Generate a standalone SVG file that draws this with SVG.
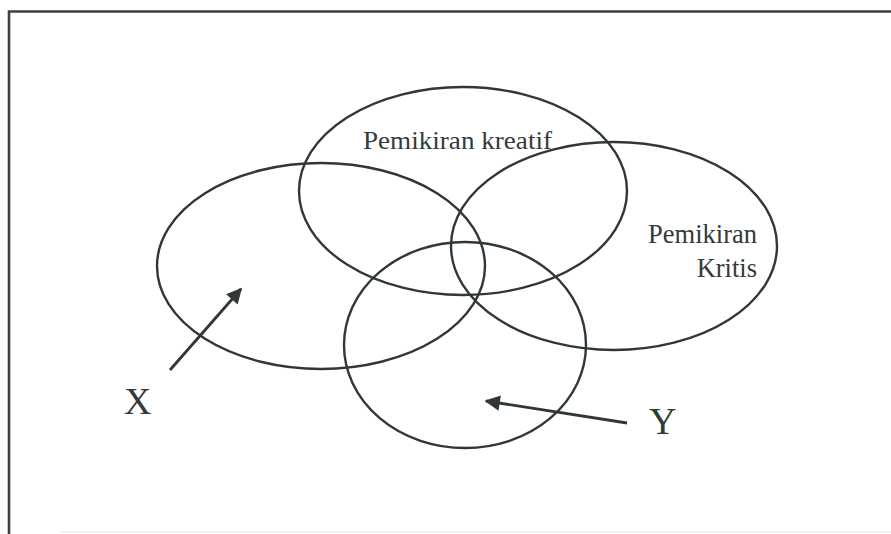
<svg xmlns="http://www.w3.org/2000/svg" width="891" height="534" viewBox="0 0 891 534">
<style>
.set{fill:none;stroke:#2f3835;stroke-width:2.4}
.lbl{font-family:"Liberation Serif","Times New Roman",serif;fill:#333b38}
.conn{stroke:#2f3835;stroke-width:2.8;fill:none}
</style>
<defs>
<marker id="ah" viewBox="0 0 10 10" refX="9" refY="5" markerWidth="6" markerHeight="5.5" markerUnits="strokeWidth" orient="auto">
<path d="M0,0 L10,5 L0,10 z" fill="#2f3835"/>
</marker>
</defs>
<rect width="891" height="534" fill="#fff"/>
<g id="frame">
<path d="M9,534 V11.5 H891" fill="none" stroke="#3a4240" stroke-width="2.6"/>
<line x1="60" y1="532" x2="891" y2="532" stroke="#e2e2e2" stroke-width="1"/>
</g>
<g id="set-x"><ellipse class="set" cx="321" cy="266" rx="164" ry="103"/></g>
<g id="set-kreatif"><ellipse class="set" cx="463" cy="191" rx="164" ry="104"/>
<text class="lbl" x="363" y="149" font-size="26" textLength="189" lengthAdjust="spacingAndGlyphs">Pemikiran kreatif</text></g>
<g id="set-kritis"><ellipse class="set" cx="614" cy="246" rx="163" ry="104"/>
<text class="lbl" x="757" y="243" font-size="26.5" text-anchor="end">Pemikiran</text>
<text class="lbl" x="757" y="277" font-size="26.5" text-anchor="end">Kritis</text></g>
<g id="set-y"><ellipse class="set" cx="465" cy="345" rx="121" ry="103"/></g>
<g id="label-x"><text class="lbl" x="124" y="414" font-size="38">X</text></g>
<g id="label-y"><text class="lbl" x="649" y="434" font-size="38">Y</text></g>
<g id="connectors">
<line class="conn" x1="627" y1="423" x2="486" y2="401" marker-end="url(#ah)"/>
<line class="conn" x1="170" y1="370" x2="241" y2="289" marker-end="url(#ah)"/>
</g>
</svg>
